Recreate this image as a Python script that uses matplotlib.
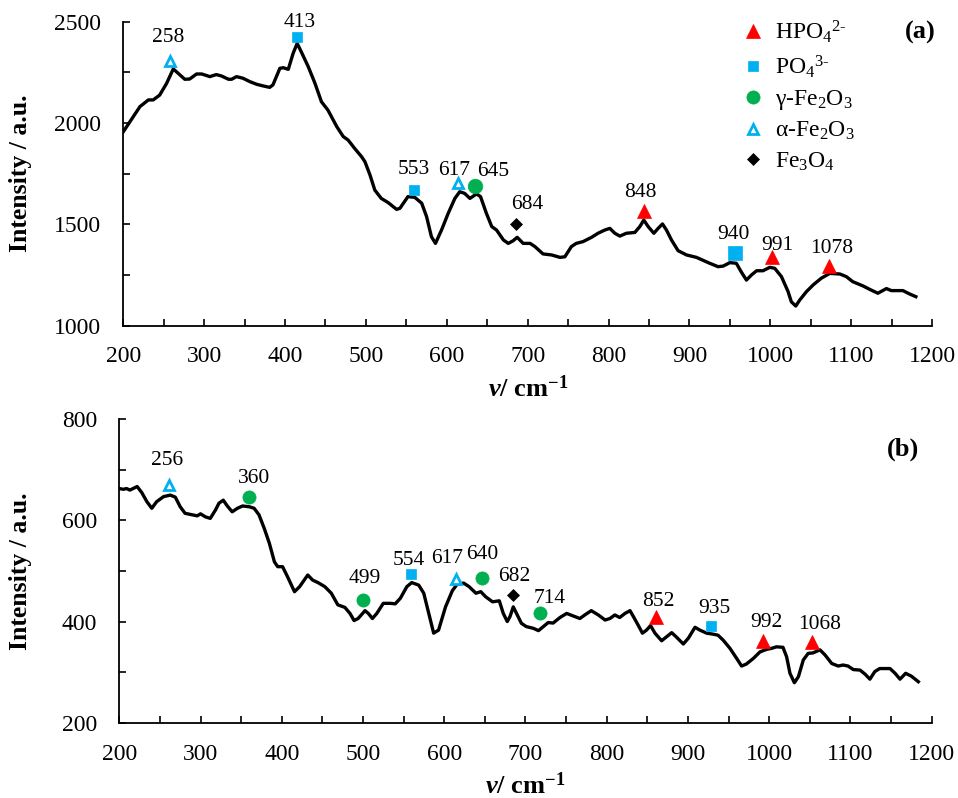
import matplotlib
matplotlib.use("Agg")
import matplotlib.pyplot as plt
from matplotlib.lines import Line2D
from matplotlib.ticker import MultipleLocator

plt.rcParams["font.family"] = ["Liberation Serif", "DejaVu Serif"]
plt.rcParams["mathtext.fontset"] = "custom"
plt.rcParams["mathtext.rm"] = "Liberation Serif"
plt.rcParams["mathtext.it"] = "Liberation Serif:italic"
plt.rcParams["mathtext.bf"] = "Liberation Serif:bold"
plt.rcParams["mathtext.bfit"] = "Liberation Serif:bold:italic"

# ---- spectrum (a) ----
wn_a = [200, 220.6, 231, 237, 245, 253.6, 261.8, 268, 276, 282, 290.6, 297, 307, 315, 321.5,
        330, 334, 340, 348, 356.6, 365, 373, 381, 385, 393.6, 397.8, 404, 410, 415, 420,
        428.7, 437, 445, 453, 464, 472, 478, 486, 494.6, 498.8, 505, 511, 519, 527.6, 537.9,
        542, 552, 560.5, 569, 575, 581, 586, 593.5, 601.7, 610, 616, 622, 628.6, 636.7, 641.7,
        649, 655.6, 661.5, 670, 676, 682, 687, 694.5, 703, 709, 719, 729.5, 740, 746, 754,
        760, 768.6, 779, 787, 795.4, 801.6, 807.8, 814, 822, 832.5, 838.7, 843.6, 849, 856,
        861.3, 866.7, 871.6, 877.8, 886, 896.4, 908.7, 925, 935.5, 941.7, 950, 958, 964,
        970.5, 976.7, 983, 991, 999.4, 1005.5, 1013.8, 1022, 1026, 1031.5, 1036.5, 1044.7,
        1053, 1063, 1073.5, 1086, 1094, 1102, 1114.7, 1123, 1133, 1143.6, 1149.7, 1158,
        1164, 1172.5, 1180]
int_a = [1957, 2081, 2114, 2114, 2138, 2196, 2267, 2245, 2216, 2217, 2242, 2242, 2229, 2239, 2232,
         2216, 2216, 2229, 2221, 2204, 2191, 2183, 2176, 2188, 2270, 2273, 2265, 2344, 2393, 2352,
         2278, 2196, 2105, 2064, 1982, 1933, 1916, 1875, 1834, 1809, 1744, 1669, 1628, 1607, 1574,
         1579, 1637, 1633, 1604, 1538, 1439, 1406, 1472, 1554, 1628, 1661, 1653, 1628, 1650, 1637,
         1554, 1489, 1472, 1423, 1406, 1419, 1436, 1406, 1406, 1390, 1354, 1349, 1337, 1340, 1390,
         1406, 1415, 1436, 1456, 1472, 1480, 1456, 1442, 1456, 1460, 1489, 1521, 1489, 1456,
         1480, 1502, 1472, 1423, 1370, 1349, 1337, 1308, 1291, 1294, 1311, 1308, 1266,
         1225, 1250, 1271, 1271, 1288, 1283, 1242, 1168, 1118, 1097, 1127, 1168,
         1201, 1234, 1258, 1255, 1242, 1217, 1196, 1179, 1160, 1183, 1173, 1173,
         1173, 1156, 1143]

# ---- spectrum (b) ----
wn_b = [200, 205, 209, 213, 217, 222, 227.7, 234, 240, 246, 254.5, 262.8, 269, 275, 281, 289.7,
        296, 300, 306, 312, 318.6, 322.7, 328, 333, 339, 345.5, 351.7, 360, 366, 372, 378.5,
        384.7, 391, 395, 401, 407, 415.7, 422, 432, 438, 444.6, 453, 461, 469, 477.7, 484, 489,
        494, 502.5, 506.6, 511.6, 517, 525, 533.5, 539.7, 546, 554, 560, 568.6, 574.8, 581, 587,
        593, 601.6, 610, 616, 624, 630.6, 639, 645, 651, 659.5, 667.8, 672.7, 677.6, 681, 685,
        689, 695, 701, 709.7, 716, 722, 728, 734, 742.5, 750.7, 759, 767, 773, 781, 789.7, 798,
        804, 810, 816, 822.5, 828.7, 832.8, 839, 844, 849, 854, 859.4, 867.6, 873.8, 880, 886,
        894.3, 900.5, 908.7, 914.8, 923, 931, 937, 943.5, 951.7, 960, 966, 972, 980.5, 988.7,
        997, 1003, 1009, 1017, 1021.5, 1025.6, 1031, 1036, 1042, 1048, 1054, 1062.5, 1068.7,
        1077, 1085, 1091, 1097, 1103.6, 1111.8, 1118, 1124, 1130, 1136, 1142.6, 1148.7, 1155,
        1161, 1168, 1175, 1183.6]
int_b = [663, 661.5, 663, 660, 663, 667, 655, 637, 624, 637, 647, 650, 646, 627, 614, 611,
         609, 613, 607, 604, 621, 634, 640, 628.5, 617, 624, 628.5, 627, 624, 611, 584,
         555, 518, 508.5, 508.5, 489, 459, 469, 492, 482, 477, 469, 456, 433, 428, 416, 402,
         406, 421.5, 416, 406, 416, 436, 436, 435, 446, 469, 477, 472, 456, 416, 377,
         383, 429, 461, 474, 476, 469, 456, 459, 449, 439, 441, 416, 400, 410, 429,
         416, 396.5, 390, 386.6, 382, 390, 398, 397, 408, 416, 411, 406, 413, 421.5, 413, 403,
         406, 413, 408, 416, 421.5, 410, 392, 377, 383, 392, 377, 362, 370, 378, 369,
         355.6, 367, 388.6, 383, 377, 375, 373, 363, 347, 327, 312, 316, 327, 340,
         345, 347, 350, 349, 330, 297.6, 279, 291, 324, 337, 338, 344, 334,
         317, 312, 314, 312, 305, 304, 296, 286, 301, 307, 307, 307, 297.6,
         286, 297.6, 292, 281]

# ---- peak assignments ----
peak_x_a = [257.7, 415, 559.7, 614, 634.7, 686, 844, 956, 1002, 1072]
peak_y_a = [2308, 2426, 1669, 1702, 1691, 1502, 1567, 1360, 1337, 1294]
peak_lab_a = ["258", "413", "553", "617", "645", "684", "848", "940", "991", "1078"]
peak_kind_a = ["alpha", "po4", "po4", "alpha", "gamma", "fe3o4", "hpo4", "po4", "hpo4", "hpo4"]

peak_x_b = [260.7, 360, 500, 559.5, 614, 647, 685, 717.9, 860.7, 928, 992, 1053]
peak_y_b = [670, 647, 442.6, 494, 483.5, 485.5, 452.5, 417.6, 409.6, 392, 362, 359]
peak_lab_b = ["256", "360", "499", "554", "617", "640", "682", "714", "852", "935", "992", "1068"]
peak_kind_b = ["alpha", "gamma", "gamma", "po4", "alpha", "gamma", "fe3o4", "gamma",
               "hpo4", "po4", "hpo4", "hpo4"]

# label offsets (points) and marker sizes, layout only
off_a = [(-1, 17), (1.5, 10), (0, 14.5), (-3, 9.5), (13, 10.5), (8, 14), (-2.5, 13),
         (-1, 13), (4, 8.5), (2, 12.5)]
ms_a = [None, None, None, None, 10.5, None, None, 9.5, None, None]
off_b = [(-1, 18), (3.5, 13), (1, 15.5), (-2, 10), (-6, 15), (0, 17), (1, 13.5), (7, 10.5),
         (2, 11), (3, 12), (2.5, 13.5), (5, 13)]
ms_b = [None] * len(peak_x_b)

BLUE = "#00B0F0"
STYLE = {
    "hpo4": dict(marker="^", color="#FF0000", ms=9.5, mfc="#FF0000", mec="#FF0000", mew=0.5),
    "po4": dict(marker="s", color=BLUE, ms=7, mfc=BLUE, mec=BLUE, mew=0.5),
    "gamma": dict(marker="o", color="#00B050", ms=9.5, mfc="#00B050", mec="#00B050", mew=0.5),
    "alpha": dict(marker="^", color=BLUE, ms=7.5, mfc="white", mec=BLUE, mew=2),
    "fe3o4": dict(marker="D", color="black", ms=6.5, mfc="black", mec="black", mew=0.5),
}
LEGEND_LABELS = {
    "hpo4": r"HPO$_4$$^{2\text{-}}$",
    "po4": r"PO$_4$$^{3\text{-}}$",
    "gamma": r"γ-Fe$_2$O$_3$",
    "alpha": r"α-Fe$_2$O$_3$",
    "fe3o4": r"Fe$_3$O$_4$",
}

fig = plt.figure(figsize=(9.58, 7.98), dpi=100)
ax_a = fig.add_axes([0.1287, 0.5919, 0.8442, 0.3809])
ax_b = fig.add_axes([0.1245, 0.0944, 0.8480, 0.3802])


def style_axes(ax, ylim, ymajor, yminor):
    ax.set_xlim(200, 1200)
    ax.set_ylim(*ylim)
    ax.xaxis.set_major_locator(MultipleLocator(100))
    ax.xaxis.set_minor_locator(MultipleLocator(50))
    ax.yaxis.set_major_locator(MultipleLocator(ymajor))
    ax.yaxis.set_minor_locator(MultipleLocator(yminor))
    for s in ["top", "right"]:
        ax.spines[s].set_visible(False)
    for s in ["left", "bottom"]:
        ax.spines[s].set_linewidth(1.3)
    ax.tick_params(which="both", direction="in", length=5, width=1.2)
    ax.tick_params(axis="x", which="major", labelsize=17, pad=15)
    ax.tick_params(axis="y", which="major", labelsize=17, pad=16)
    ax.set_xlabel(r"$\mathbfit{\nu}$/ cm$^{\mathbf{-1}}$", fontsize=19, fontweight="bold",
                  labelpad=6)
    ax.set_ylabel("Intensity / a.u.", fontsize=18.5, fontweight="bold")


def draw_peaks(ax, xs, ys, labs, kinds, offs, sizes):
    for x, y, lab, kind, off, ms in zip(xs, ys, labs, kinds, offs, sizes):
        st = dict(STYLE[kind])
        if ms is not None:
            st["ms"] = ms
        ax.plot([x], [y], linestyle="none", zorder=3, **st)
        ax.annotate(lab, (x, y), xytext=off, textcoords="offset points",
                    ha="center", va="center", fontsize=15.5)


# panel (a)
ax_a.plot(wn_a, int_a, color="black", lw=2.4, solid_joinstyle="round")
style_axes(ax_a, (1000, 2500), 500, 250)
draw_peaks(ax_a, peak_x_a, peak_y_a, peak_lab_a, peak_kind_a, off_a, ms_a)
ax_a.yaxis.set_label_coords(-0.113, 0.5)
ax_a.text(0.985, 0.963, "(a)", transform=ax_a.transAxes, ha="center", va="center",
          fontsize=19, fontweight="bold")

handles = []
for kind in ["hpo4", "po4", "gamma", "alpha", "fe3o4"]:
    st = dict(STYLE[kind])
    handles.append(Line2D([], [], linestyle="none", label=LEGEND_LABELS[kind], **st))
ax_a.legend(handles=handles, loc="upper left", bbox_to_anchor=(0.752, 1.04), frameon=False,
            fontsize=17, handlelength=1.0, handletextpad=0.45, labelspacing=0.34,
            borderaxespad=0)

# panel (b)
ax_b.plot(wn_b, int_b, color="black", lw=2.4, solid_joinstyle="round")
style_axes(ax_b, (200, 800), 200, 100)
draw_peaks(ax_b, peak_x_b, peak_y_b, peak_lab_b, peak_kind_b, off_b, ms_b)
ax_b.yaxis.set_label_coords(-0.1075, 0.5)
ax_b.text(0.965, 0.902, "(b)", transform=ax_b.transAxes, ha="center", va="center",
          fontsize=19, fontweight="bold")

fig.savefig("out.png", dpi=100)
